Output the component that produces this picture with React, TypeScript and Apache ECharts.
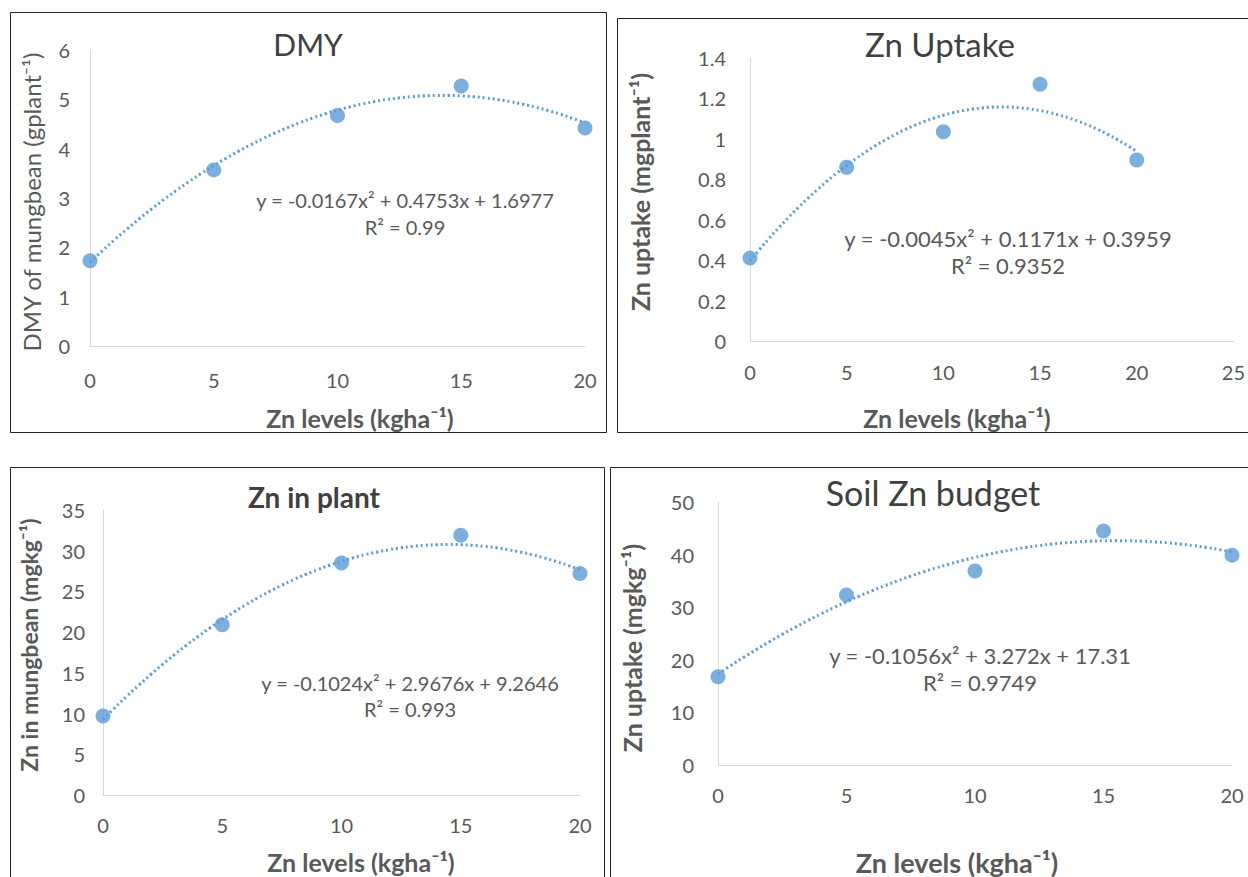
import React, { useEffect, useRef } from "react";
import * as echarts from "echarts";

const X_LEVELS = [0, 5, 10, 15, 20];
const DMY = [1.73, 3.57, 4.67, 5.27, 4.42];
const ZN_UPTAKE = [0.41, 0.86, 1.035, 1.27, 0.895];
const ZN_PLANT = [9.7, 20.9, 28.5, 31.9, 27.2];
const SOIL_ZN = [16.8, 32.3, 36.9, 44.5, 39.9];

// trendline coefficients as printed on the chart: [a, b, c] for a*x^2 + b*x + c
const DMY_FIT = [-0.0167, 0.4753, 1.6977];
const UPTAKE_FIT = [-0.0045, 0.1171, 0.3959];
const PLANT_FIT = [-0.1024, 2.9676, 9.2646];
const SOIL_FIT = [-0.1056, 3.272, 17.31];

const DMY_R2 = "0.99";
const UPTAKE_R2 = "0.9352";
const PLANT_R2 = "0.993";
const SOIL_R2 = "0.9749";

const TITLES = ["DMY", "Zn Uptake", "Zn in plant", "Soil Zn budget"];
const Y_NAMES = [
  "DMY of mungbean (gplant⁻¹)",
  "Zn uptake (mgplant⁻¹)",
  "Zn in mungbean (mgkg⁻¹)",
  "Zn uptake (mgkg⁻¹)",
];
const X_NAME = "Zn levels (kgha⁻¹)";

const BLUE = "#5B9BD5";
const GRAY = "#595959";
const FONT = "Lato, 'Open Sans', sans-serif";

function fitCurve(coef: number[]) {
  const pts: number[][] = [];
  for (let i = 0; i <= 40; i++) {
    const x = i * 0.5;
    pts.push([x, coef[0] * x * x + coef[1] * x + coef[2]]);
  }
  return pts;
}

function eqText(coef: number[]) {
  const f = (v: number) => String(v);
  return `y = ${f(coef[0])}x² + ${f(coef[1])}x + ${f(coef[2])}`;
}

export default function App() {
  const ref = useRef<HTMLDivElement>(null);
  useEffect(() => {
    document.body.style.margin = "0";
    const chart = echarts.init(ref.current!, null, { renderer: "svg" });

    const grids = [
      { left: 90, top: 50, width: 495, height: 296 },
      { left: 750, top: 58, width: 486, height: 283 },
      { left: 103, top: 510, width: 477, height: 285 },
      { left: 718, top: 502, width: 514, height: 263 },
    ];
    const yCfg = [
      { max: 6, interval: 1, margin: 20 },
      { max: 1.4, interval: 0.2, margin: 24 },
      { max: 35, interval: 5, margin: 18 },
      { max: 50, interval: 10, margin: 24 },
    ];
    const xCfg = [
      { max: 20, margin: 24 },
      { max: 25, margin: 21 },
      { max: 20, margin: 20 },
      { max: 20, margin: 20 },
    ];
    const datasets = [DMY, ZN_UPTAKE, ZN_PLANT, SOIL_ZN];
    const fits = [DMY_FIT, UPTAKE_FIT, PLANT_FIT, SOIL_FIT];
    const r2 = [DMY_R2, UPTAKE_R2, PLANT_R2, SOIL_R2];

    const axisLine = { show: true, lineStyle: { color: "#D9D9D9", width: 1 } };
    const label = (margin: number) => ({
      color: GRAY,
      fontSize: 20,
      fontFamily: FONT,
      margin,
    });

    const series: any[] = [];
    datasets.forEach((d, i) => {
      series.push({
        type: "line",
        xAxisIndex: i,
        yAxisIndex: i,
        data: fitCurve(fits[i]),
        showSymbol: false,
        symbol: "none",
        smooth: true,
        lineStyle: { color: BLUE, width: 3, type: [2, 3] },
        silent: true,
        z: 1,
      });
      series.push({
        type: "scatter",
        xAxisIndex: i,
        yAxisIndex: i,
        data: X_LEVELS.map((x, k) => [x, d[k]]),
        symbolSize: 15,
        itemStyle: { color: BLUE },
        z: 2,
      });
    });

    const borders = [
      [10, 12, 596, 420],
      [617, 18, 640, 414],
      [10, 467, 594, 420],
      [610, 467, 650, 420],
    ];
    // x, y, weight, size
    const titlePos: any[] = [
      [308, 44, "normal", 30],
      [940, 44, "normal", 33],
      [314, 497, "bold", 28],
      [933, 492, "normal", 34],
    ];
    const yNamePos: any[] = [
      [31, 202, "normal", 24],
      [640, 192, "bold", 25],
      [29, 645, "bold", 23],
      [632, 648, "bold", 25],
    ];
    const xNamePos: any[] = [
      [360, 418, 25],
      [957, 418, 25],
      [361, 862, 25],
      [957, 862, 27],
    ];
    const eqPos: any[] = [
      [405, 200, 227, 20],
      [1008, 238, 265, 22],
      [410, 683, 709, 20],
      [980, 655, 682, 22],
    ];

    const graphic: any[] = [];
    borders.forEach((b) =>
      graphic.push({
        type: "rect",
        shape: { x: b[0] + 0.5, y: b[1] + 0.5, width: b[2], height: b[3] },
        style: { fill: "none", stroke: "#222", lineWidth: 1 },
        silent: true,
      })
    );
    titlePos.forEach((p, i) =>
      graphic.push({
        type: "text",
        x: p[0],
        y: p[1],
        style: {
          text: TITLES[i],
          fill: "#404040",
          fontSize: p[3],
          fontWeight: p[2],
          fontFamily: FONT,
          align: "center",
          verticalAlign: "middle",
        },
      })
    );
    yNamePos.forEach((p, i) =>
      graphic.push({
        type: "text",
        x: p[0],
        y: p[1],
        rotation: Math.PI / 2,
        style: {
          text: Y_NAMES[i],
          fill: GRAY,
          fontSize: p[3],
          fontWeight: p[2],
          fontFamily: FONT,
          align: "center",
          verticalAlign: "middle",
        },
      })
    );
    xNamePos.forEach((p) =>
      graphic.push({
        type: "text",
        x: p[0],
        y: p[1],
        style: {
          text: X_NAME,
          fill: GRAY,
          fontSize: p[2],
          fontWeight: "bold",
          fontFamily: FONT,
          align: "center",
          verticalAlign: "middle",
        },
      })
    );
    eqPos.forEach((p, i) => {
      graphic.push({
        type: "text",
        x: p[0],
        y: p[1],
        style: {
          text: eqText(fits[i]),
          fill: GRAY,
          fontSize: p[3],
          fontFamily: FONT,
          align: "center",
          verticalAlign: "middle",
        },
      });
      graphic.push({
        type: "text",
        x: p[0],
        y: p[2],
        style: {
          text: `R² = ${r2[i]}`,
          fill: GRAY,
          fontSize: p[3],
          fontFamily: FONT,
          align: "center",
          verticalAlign: "middle",
        },
      });
    });

    chart.setOption({
      animation: false,
      backgroundColor: "#fff",
      grid: grids,
      xAxis: xCfg.map((c, i) => ({
        type: "value",
        gridIndex: i,
        min: 0,
        max: c.max,
        interval: 5,
        axisLine,
        axisTick: { show: false },
        splitLine: { show: false },
        axisLabel: label(c.margin),
      })),
      yAxis: yCfg.map((c, i) => ({
        type: "value",
        gridIndex: i,
        min: 0,
        max: c.max,
        interval: c.interval,
        axisLine,
        axisTick: { show: false },
        splitLine: { show: false },
        axisLabel: label(c.margin),
      })),
      series,
      graphic,
    });
    return () => chart.dispose();
  }, []);
  return (
    <div
      ref={ref}
      style={{ position: "absolute", left: 0, top: 0, width: 1248, height: 877 }}
    />
  );
}
